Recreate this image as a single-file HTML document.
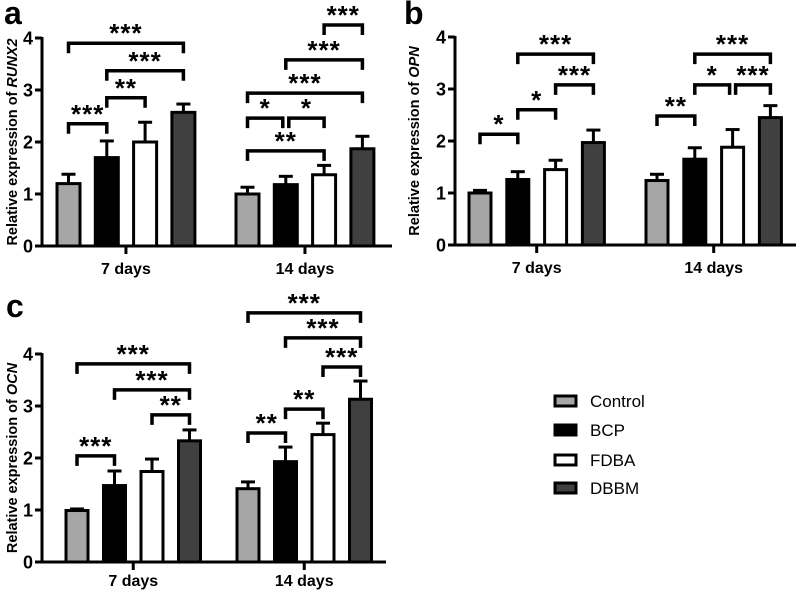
<!DOCTYPE html>
<html><head><meta charset="utf-8"><style>
html,body{margin:0;padding:0;background:#fff;}
svg{display:block;font-family:"Liberation Sans",Arial,sans-serif;}
</style></head><body>
<svg id="fig" width="796" height="590" viewBox="0 0 796 590"></svg>
<script>
const groups = ["7 days","14 days"];
const series = ["Control","BCP","FDBA","DBBM"];
const fills = ["#a6a6a6","#000000","#ffffff","#404040"];
const yTicks = [0,1,2,3,4];
// panel a RUNX2
const aMeans = [[1.2,1.7,2.0,2.57],[1.0,1.18,1.37,1.87]];
const aErrs = [[0.18,0.32,0.38,0.16],[0.13,0.16,0.18,0.24]];
const aSig = [[0,0,1,2.35,"***"],[0,1,2,2.85,"**"],[0,1,3,3.37,"***"],[0,0,3,3.9,"***"],
  [1,0,1,2.46,"*"],[1,1,2,2.46,"*"],[1,0,2,1.83,"**"],[1,0,3,2.94,"***"],[1,1,3,3.58,"***"],[1,2,3,4.25,"***"]];
// panel b OPN
const bMeans = [[1.0,1.26,1.45,1.97],[1.24,1.65,1.88,2.45]];
const bErrs = [[0.05,0.15,0.18,0.24],[0.12,0.22,0.34,0.23]];
const bSig = [[0,0,1,2.13,"*"],[0,1,2,2.6,"*"],[0,2,3,3.08,"***"],[0,1,3,3.67,"***"],
  [1,0,1,2.48,"**"],[1,1,2,3.08,"*"],[1,2,3,3.08,"***"],[1,1,3,3.67,"***"]];
// panel c OCN
const cMeans = [[0.99,1.47,1.74,2.33],[1.41,1.93,2.45,3.13]];
const cErrs = [[0.03,0.28,0.24,0.21],[0.13,0.28,0.22,0.35]];
const cSig = [[0,0,1,2.04,"***"],[0,2,3,2.83,"**"],[0,1,3,3.31,"***"],[0,0,3,3.81,"***"],
  [1,0,1,2.48,"**"],[1,1,2,2.94,"**"],[1,2,3,3.75,"***"],[1,1,3,4.31,"***"],[1,0,3,4.79,"***"]];

const NS="http://www.w3.org/2000/svg";
const svg=document.getElementById('fig');
function mk(tag,attrs,parent){const e=document.createElementNS(NS,tag);for(const k in attrs)e.setAttribute(k,attrs[k]);(parent||svg).appendChild(e);return e;}

function panel(cfg){
  const g=mk('g',{});
  
  
  const y=v=>cfg.y0-v*cfg.ppu;
  const barX=(gi,si)=>cfg.gStart[gi]+si*cfg.step;
  const cx=(gi,si)=>barX(gi,si)+cfg.bw/2;
  const L=mk('text',{x:cfg.lx,y:cfg.ly,'font-size':32,'font-weight':'bold'},g);L.textContent=cfg.letter;
  
  
  cfg.means.forEach((row,gi)=>row.forEach((m,si)=>{
    const err=cfg.errs[gi][si];
    const el=mk('line',{x1:cx(gi,si),x2:cx(gi,si),y1:y(m),y2:y(m+err),stroke:'#000','stroke-width':3},g);
    
    
    const cap=mk('line',{x1:cx(gi,si)-7,x2:cx(gi,si)+7,y1:y(m+err),y2:y(m+err),stroke:'#000','stroke-width':3},g);
    
    
    const r=mk('rect',{x:barX(gi,si),y:y(m),width:cfg.bw,height:y(0)-y(m),fill:fills[si],stroke:'#000','stroke-width':3},g);
    
    
  }));
  const ya=mk('line',{x1:cfg.ax,x2:cfg.ax,y1:y(4)-1,y2:y(0)+1.5,stroke:'#000','stroke-width':3},g);
  
  
  const xa=mk('line',{x1:cfg.ax-1.5,x2:cfg.axEnd,y1:y(0),y2:y(0),stroke:'#000','stroke-width':3},g);
  
  
  yTicks.forEach(t=>{
    mk('line',{x1:cfg.ax-7,x2:cfg.ax,y1:y(t),y2:y(t),stroke:'#000','stroke-width':3},g);
    const tl=mk('text',{x:cfg.ax-9,y:y(t)+6.5,'font-size':18,'font-weight':'bold','text-anchor':'end'},g);tl.textContent=t;
    
    
  });
  groups.forEach((gn,gi)=>{
    const gx=(cx(gi,1)+cx(gi,2))/2;
    mk('line',{x1:gx,x2:gx,y1:y(0),y2:y(0)+8,stroke:'#000','stroke-width':3},g);
    const tl=mk('text',{x:gx,y:y(0)+cfg.xlOff,'font-size':16,'font-weight':'bold','text-anchor':'middle'},g);tl.textContent=gn;
    
    
  });
  const yt=mk('text',{x:0,y:0,'font-size':14.5,'font-weight':'bold','text-anchor':'middle',transform:`translate(${cfg.tx},${(y(0)+y(4))/2}) rotate(-90)`},g);
  yt.appendChild(document.createTextNode('Relative expression of '));
  const ts=mk('tspan',{'font-style':'italic'},yt);ts.textContent=cfg.gene;
  
  
  cfg.sig.forEach((s,i)=>{
    const [gi,a,b,v,lab]=s;
    let x1=cx(gi,a),x2=cx(gi,b),yy=y(v);
    // split adjacent brackets sharing an endpoint at the same height
    cfg.sig.forEach((o,j)=>{ if(j!==i&&o[0]===gi&&o[3]===v){ if(o[2]===a)x1+=3; if(o[1]===b)x2-=3; }});
    const bg=mk('g',{},g);
    
    
    mk('path',{d:`M${x1},${yy+10}V${yy}H${x2}V${yy+10}`,fill:'none',stroke:'#000','stroke-width':3.5},bg);
    const st=mk('text',{x:(x1+x2)/2,y:yy-1,'font-size':26,'font-weight':'bold','text-anchor':'middle','letter-spacing':'1'},bg);st.textContent=lab;
  });
}

panel({letter:'a',lx:4,ly:24,gene:'RUNX2',means:aMeans,errs:aErrs,sig:aSig,y0:246,ppu:52,ax:42,axEnd:392,gStart:[57,236],step:38.3,bw:23,tx:17,xlOff:28});
panel({letter:'b',lx:404,ly:24,gene:'OPN',means:bMeans,errs:bErrs,sig:bSig,y0:245,ppu:52,ax:455,axEnd:796,gStart:[469,646],step:37.8,bw:22,tx:419,xlOff:28});
panel({letter:'c',lx:6,ly:317,gene:'OCN',means:cMeans,errs:cErrs,sig:cSig,y0:562,ppu:52,ax:42,axEnd:386,gStart:[66,237],step:37.5,bw:22,tx:17,xlOff:24});

const lg=mk('g',{});


const ly=[401,430,460,488];
series.forEach((s,i)=>{
  const e=mk('g',{},lg);
  
  
  mk('rect',{x:555,y:ly[i]-5,width:21,height:10,fill:fills[i],stroke:'#000','stroke-width':3},e);
  const t=mk('text',{x:590,y:ly[i]+6,'font-size':17},e);t.textContent=s;
});
</script>
</body></html>
